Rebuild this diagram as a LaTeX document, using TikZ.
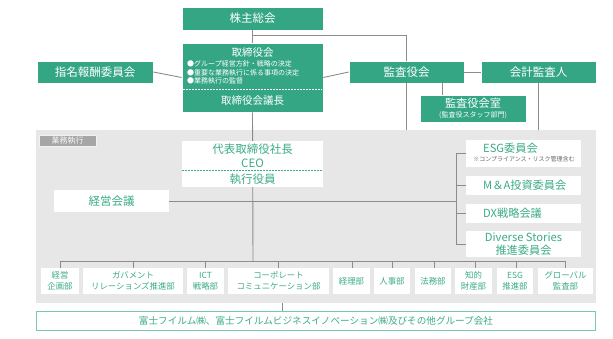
\documentclass[tikz,border=0pt]{standalone}
\usepackage{fontspec}
\setmainfont{Noto Sans CJK JP}
\definecolor{gfill}{RGB}{52,166,132}
\definecolor{gtext}{RGB}{60,172,134}
\definecolor{gline}{RGB}{140,140,140}
\definecolor{garea}{RGB}{231,231,231}
\definecolor{glabel}{RGB}{166,166,166}
\definecolor{gborder}{RGB}{120,200,170}
\begin{document}
\begin{tikzpicture}[x=1pt,y=-1pt,
  gbox/.style={fill=gfill,draw=white,line width=0.6pt,text=white,inner sep=0pt,font=\fontsize{11.5}{13}\selectfont},
  wbox/.style={fill=white,inner sep=0pt,text=gtext,font=\fontsize{11.5}{13}\selectfont},
  ctext/.style={text=gtext,inner sep=0pt,anchor=west,font=\fontsize{11.2}{13}\selectfont},
  dept/.style={fill=white,inner sep=0pt,text=gtext,align=center,minimum height=26pt,font=\fontsize{8.4}{11}\selectfont},
  conn/.style={draw=gline,line width=0.9pt},
  wdash/.style={draw=white,line width=0.6pt,dash pattern=on 1.5pt off 1.5pt}]
\useasboundingbox (0,0) rectangle (613,338);
% gray area
\fill[garea] (36,130) rectangle (596,303);
\node[fill=glabel,draw=white!85!glabel,line width=0.5pt,text=white!92!glabel,inner sep=0pt,minimum width=57pt,minimum height=11pt,font=\fontsize{8}{8}\selectfont] (lbl) at (67.5,140.5) {業務執行};
% coordinates
\coordinate (j1) at (253,35);
\coordinate (j2) at (406,35);
\coordinate (bus) at (253,261);
\coordinate (brk) at (456,201);
\coordinate (ga1) at (406,130);
\coordinate (ga2) at (538,130);
\coordinate (gab) at (282,303);
% top boxes
\node[gbox,minimum width=141pt,minimum height=23pt] (agm) at (252.5,18.5) {株主総会};
\node[gbox,minimum width=141pt,minimum height=69pt] (bod) at (252.5,77.5) {};
\node[text=white,inner sep=0pt,font=\fontsize{10.5}{12}\selectfont] (bodt) at (252.5,52.5) {取締役会};
\node[text=white,inner sep=0pt,anchor=west,align=left,font=\fontsize{7}{8.8}\selectfont] (bodl) at (187,72.5) {●グループ経営方針・戦略の決定\\●重要な業務執行に係る事項の決定\\●業務執行の監督};
\draw[wdash] (183,89) -- (322,89);
\node[text=white,inner sep=0pt,font=\fontsize{10.5}{12}\selectfont] (chair) at (252.5,101) {取締役会議長};
\node[gbox,minimum width=116pt,minimum height=22pt] (nom) at (95,72) {指名報酬委員会};
\node[gbox,minimum width=115pt,minimum height=22pt] (aud) at (406.5,72) {監査役会};
\node[gbox,minimum width=115pt,minimum height=22pt] (acc) at (538.5,72) {会計監査人};
\node[gbox,minimum width=106pt,minimum height=27pt,align=center,font=\fontsize{11.2}{11}\selectfont] (audr) at (473,108.5) {監査役会室\\[-1pt]{\fontsize{7}{7}\selectfont (監査役スタッフ部門)}};
% connectors top
\draw[conn] (agm.south) -- (bod.north);
\draw[conn] (j1) -- (j2) -- (aud.north -| j2);
\draw[conn] (nom.east) -- (bod.west);
\draw[conn] (bod.east) -- (aud.west);
\draw[conn] (aud.east) -- (acc.west);
\draw[conn] (audr.north -| 442,0) -- (aud.south -| 442,0);
\draw[conn] (aud.south -| ga1) -- (ga1);
\draw[conn] (acc.south -| ga2) -- (ga2);
% main vertical
\draw[conn] (bod.south) -- (bus);
\draw[conn] (60,268) -- (60,261) -- (565,261) -- (565,268);
\foreach \x in {133,205,278,352,392,434,475,516} \draw[conn] (\x,261) -- (\x,268);
% executive boxes
\node[wbox,minimum width=141pt,minimum height=46pt] (ceo) at (252.5,164) {};
\node[text=gtext,inner sep=0pt,align=center,font=\fontsize{11.5}{14}\selectfont] (ceot) at (252.5,155.5) {代表取締役社長\\CEO};
\draw[draw=gtext,line width=0.6pt,dash pattern=on 1.5pt off 1.5pt] (182,170) -- (323,170);
\node[text=gtext,inner sep=0pt,font=\fontsize{11.5}{13}\selectfont] (exo) at (252.5,179) {執行役員};
\node[wbox,minimum width=115pt,minimum height=22pt] (mgmt) at (111.5,201) {経営会議};
\draw[conn] (mgmt.east) -- (brk);
% committees
\node[wbox,minimum width=115pt,minimum height=27pt] (esg) at (523.5,153.5) {};
\node[ctext] (esgt) at (483,148) {ESG委員会};
\node[text=black!60,inner sep=0pt,font=\fontsize{6}{6}\selectfont] (esgn) at (524,159.5) {※コンプライアンス・リスク管理含む};
\node[wbox,minimum width=115pt,minimum height=19pt] (ma) at (523.5,185.5) {};
\node[ctext] (mat) at (483,185.5) {M＆A投資委員会};
\node[wbox,minimum width=115pt,minimum height=19pt] (dx) at (523.5,213.5) {};
\node[ctext] (dxt) at (483,213.5) {DX戦略会議};
\node[wbox,minimum width=115pt,minimum height=26pt,align=center,font=\fontsize{11.2}{12.5}\selectfont] (div) at (523.5,244) {Diverse Stories\\推進委員会};
\draw[conn] (esg.west) -- (456,153.5) -- (456,244) -- (div.west);
\draw[conn] (ma.west) -- (ma.west -| brk);
\draw[conn] (dx.west) -- (dx.west -| brk);
% departments
\node[dept,minimum width=38pt] (d1) at (60,281) {経営\\企画部};
\node[dept,minimum width=100pt] (d2) at (133,281) {ガバメント\\リレーションズ推進部};
\node[dept,minimum width=37pt] (d3) at (205.5,281) {ICT\\戦略部};
\node[dept,minimum width=101pt] (d4) at (278.5,281) {コーポレート\\コミュニケーション部};
\node[dept,minimum width=37pt] (d5) at (351.5,281) {経理部};
\node[dept,minimum width=36pt] (d6) at (392,281) {人事部};
\node[dept,minimum width=36pt] (d7) at (433,281) {法務部};
\node[dept,minimum width=37pt] (d8) at (473.5,281) {知的\\財産部};
\node[dept,minimum width=36pt] (d9) at (515,281) {ESG\\推進部};
\node[dept,minimum width=55pt] (d10) at (565.5,281) {グローバル\\監査部};
% bottom
\node[fill=white,draw=gborder,line width=0.8pt,text=gtext,inner sep=0pt,minimum width=559pt,minimum height=19pt,font=\fontsize{9.6}{10}\selectfont] (grp) at (316,320.5) {富士フイルム㈱、富士フイルムビジネスイノベーション㈱及びその他グループ会社};
\draw[conn] (gab) -- (gab |- grp.north);
\end{tikzpicture}
\end{document}
